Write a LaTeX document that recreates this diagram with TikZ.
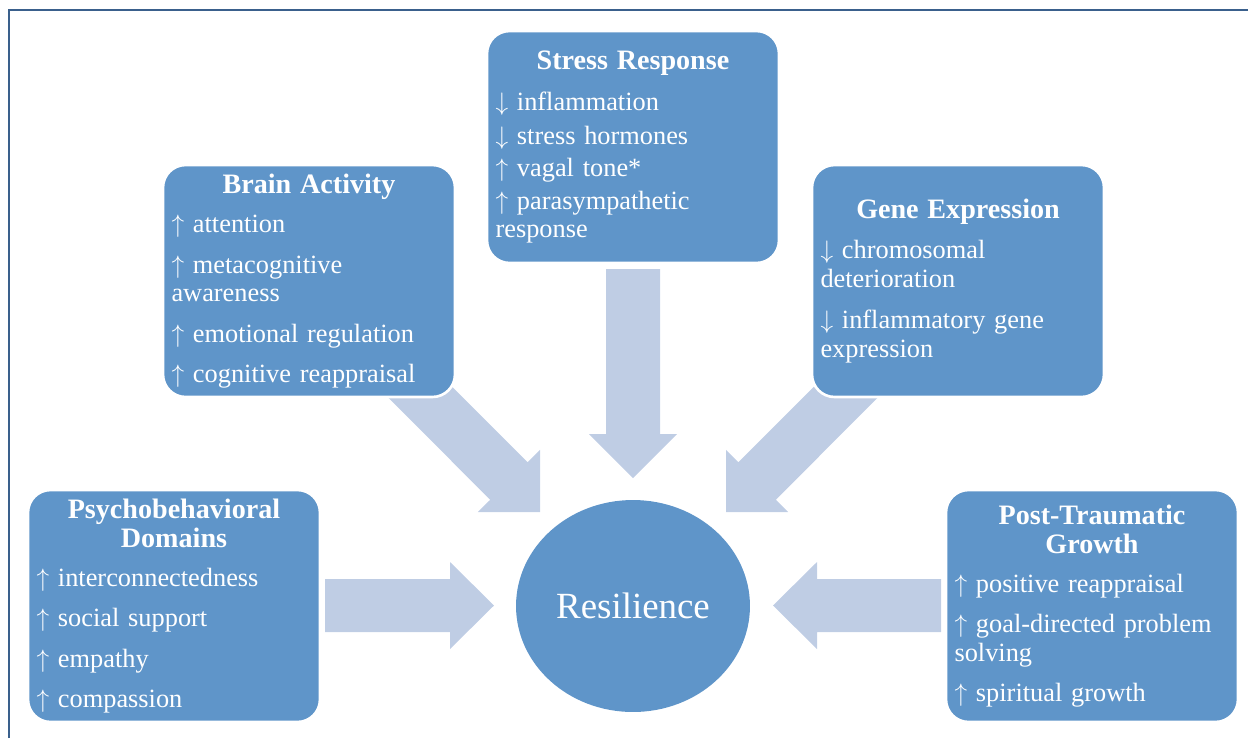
\documentclass[tikz,border=0pt]{standalone}
\usepackage{fontspec}
\setmainfont{Liberation Serif}
\usetikzlibrary{shapes.geometric}

\definecolor{panelblue}{RGB}{95,149,201}
\definecolor{arrowblue}{RGB}{191,205,228}
\definecolor{framecol}{RGB}{58,96,140}

\tikzset{
  panel/.style={rectangle, rounded corners=0.45cm, fill=panelblue, draw=white,
    line width=1.5pt, text=white, text width=5.5cm, inner xsep=0.17cm,
    inner ysep=0pt, minimum height=4.64cm, align=left,
    font=\fontsize{15}{16.4}\selectfont},
  fatarrow/.style={fill=arrowblue},
  hub/.style={ellipse, fill=panelblue, text=white, minimum width=4.68cm,
    minimum height=4.24cm, font=\fontsize{21}{24}\selectfont}
}
\newcommand{\paneltitle}[1]{\makebox[\linewidth]{\fontsize{16}{17}\selectfont\bfseries #1}}
\newcommand{\upmark}{$\uparrow$\ }
\newcommand{\downmark}{$\downarrow$\ }

\begin{document}
\begin{tikzpicture}[x=0.02cm,y=-0.02cm]
\useasboundingbox (0,0) rectangle (1248,738);
\draw[framecol, line width=1.2pt] (9,738)--(9,10)--(1248,10);

% block arrows
\fill[fatarrow] (325,579)--(450,579)--(450,562)--(494,605.5)--(450,649)--(450,632)--(325,632)--cycle;
\fill[fatarrow] (941,579)--(817,579)--(817,562)--(773,605.5)--(817,649)--(817,632)--(941,632)--cycle;
\fill[fatarrow] (606,269)--(660,269)--(660,434)--(677,434)--(633,478)--(589,434)--(606,434)--cycle;
\fill[fatarrow] (417.4,351.9)--(527.6,462.2)--(540,449.8)--(540,512)--(477.8,512)--(490.2,499.8)--(380,389.3)--cycle;
\fill[fatarrow] (848.6,351.9)--(738.4,462.2)--(726,449.8)--(726,512)--(788.2,512)--(775.8,499.8)--(886,389.3)--cycle;

\node[panel] (brain) at (309,281) {\paneltitle{Brain Activity}\\[6pt]
\upmark attention\\[6.5pt]
\upmark metacognitive\\awareness\\[6.5pt]
\upmark emotional regulation\\[6.5pt]
\upmark cognitive reappraisal};

\node[panel] (stress) at (633,147) {\paneltitle{Stress Response}\\[7pt]
\downmark inflammation\\[3pt]
\downmark stress hormones\\[2pt]
\upmark vagal tone*\\[2pt]
\upmark parasympathetic\\response};

\node[panel] (gene) at (958,281) {\paneltitle{Gene Expression}\\[6pt]
\downmark chromosomal\\deterioration\\[7pt]
\downmark inflammatory gene\\expression};

\node[panel] (psycho) at (174,606) {\paneltitle{Psychobehavioral}\\\paneltitle{Domains}\\[6pt]
\upmark interconnectedness\\[6.5pt]
\upmark social support\\[6.5pt]
\upmark empathy\\[6.5pt]
\upmark compassion};

\node[panel] (growth) at (1092,606) {\paneltitle{Post-Traumatic}\\\paneltitle{Growth}\\[6pt]
\upmark positive reappraisal\\[6.5pt]
\upmark goal-directed problem\\solving\\[6.5pt]
\upmark spiritual growth};

\node[hub] (resil) at (633,606) {Resilience};
\end{tikzpicture}
\end{document}
